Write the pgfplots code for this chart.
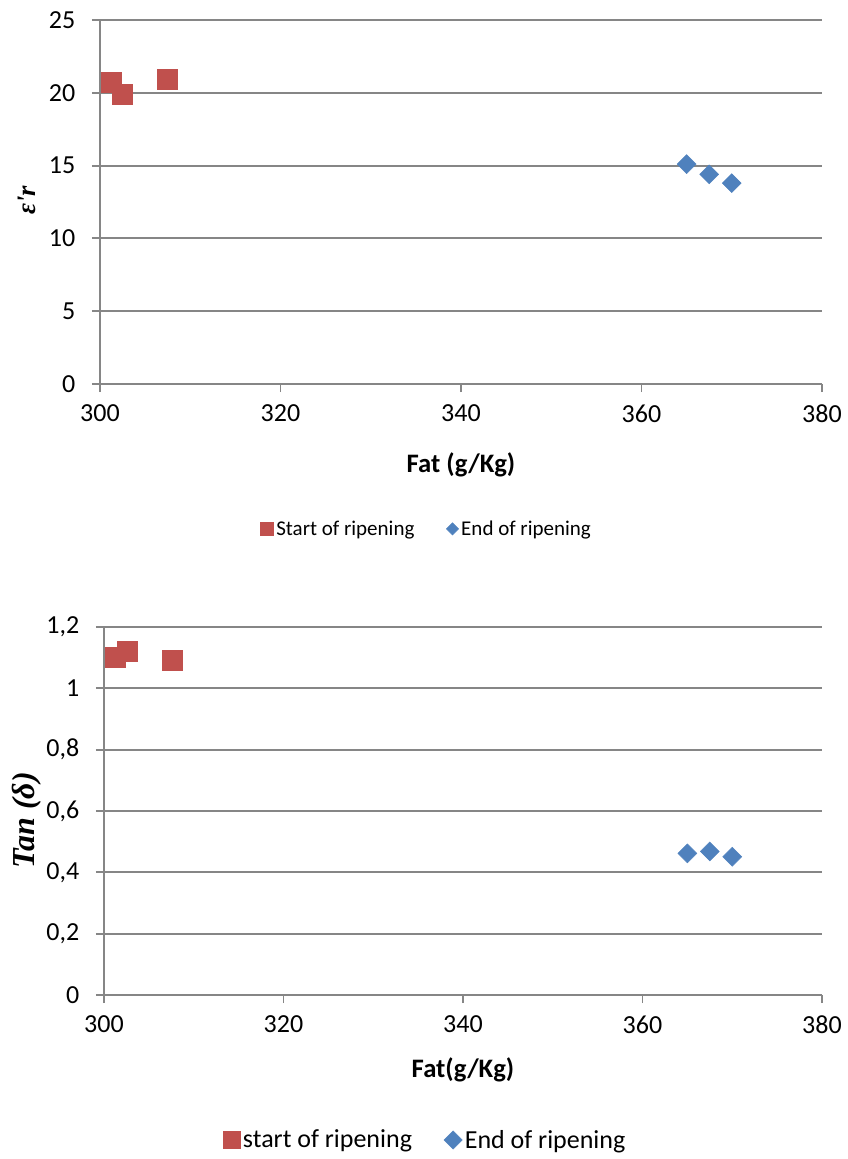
\documentclass[border=0pt]{standalone}
\usepackage{fontspec}
\setmainfont{Carlito}
\newfontfamily\serifbi{Liberation Serif}
\usepackage{pgfplots}
\pgfplotsset{compat=1.18}
\definecolor{exred}{HTML}{C0504D}
\definecolor{exblue}{HTML}{4F81BD}
\definecolor{gridgray}{HTML}{868686}
\pgfplotsset{
 mystyle/.style={
  scale only axis,
  axis lines=left,
  axis line style={-, gridgray, line width=1.4pt},
  ymajorgrids, grid style={gridgray, line width=1.4pt},
  xmin=300, xmax=380, xtick={300,320,340,360,380},
  tick align=outside, major tick length=6pt,
  tick style={gridgray, line width=1.4pt},
  ticklabel style={font=\fontsize{19.5}{23}\selectfont, text=black},
  xticklabel style={yshift=-6pt},
  yticklabel style={xshift=-9pt},
  /pgf/number format/assume math mode=true,
  xlabel style={font=\fontsize{20}{24}\selectfont\bfseries, anchor=center},
  ylabel style={font=\fontsize{20}{24}\selectfont\serifbi\bfseries\itshape, anchor=center, rotate=0},
  legend style={draw=none, fill=none, legend columns=2, anchor=center,
    /tikz/every even column/.append style={column sep=22pt}},
  legend cell align=left,
 }
}
\begin{document}
\begin{tikzpicture}
\useasboundingbox (0,0) rectangle (635.25pt,-869.25pt);
\begin{axis}[mystyle, at={(75pt,-15pt)}, anchor=north west,
  width=541.5pt, height=273pt,
  ymin=0, ymax=25, ytick={0,5,10,15,20,25},
  xlabel={Fat (g/Kg)}, ylabel={ε'r},
  xlabel style={at={(axis description cs:0.5,-0.222)}},
  ylabel style={at={(axis description cs:-0.101,0.505)}},
  legend style={at={(0.453,-0.398)}, font=\fontsize{15.75}{19}\selectfont},
]
\addplot[only marks, mark=square*, mark size=7.5pt, color=exred, forget plot]
  coordinates {(301.2,20.7) (302.5,19.9) (307.5,20.9)};
\addplot[only marks, mark=square*, mark size=5pt, mark options={rotate=45}, color=exblue, forget plot]
  coordinates {(365,15.1) (367.5,14.4) (370,13.8)};
\addlegendimage{only marks, mark=square*, mark size=4.9pt, color=exred}
\addlegendentry{Start of ripening}
\addlegendimage{only marks, mark=square*, mark size=3.2pt, mark options={rotate=45}, color=exblue}
\addlegendentry{End of ripening}
\end{axis}
\begin{axis}[mystyle, at={(78pt,-470.25pt)}, anchor=north west,
  width=538.5pt, height=276pt,
  ymin=0, ymax=1.2, ytick={0,0.2,0.4,0.6,0.8,1,1.2},
  yticklabel style={/pgf/number format/.cd, use comma, fixed, precision=1},
  xlabel={Fat(g/Kg)}, ylabel={Tan (δ)},
  xlabel style={at={(axis description cs:0.5,-0.204)}},
  ylabel style={at={(axis description cs:-0.107,0.475)}, font=\fontsize{24}{29}\selectfont\serifbi\bfseries\itshape},
  legend style={at={(0.448,-0.394)}, font=\fontsize{19.5}{23}\selectfont},
]
\addplot[only marks, mark=square*, mark size=7.5pt, color=exred, forget plot]
  coordinates {(301.3,1.10) (302.6,1.12) (307.6,1.09)};
\addplot[only marks, mark=square*, mark size=5pt, mark options={rotate=45}, color=exblue, forget plot]
  coordinates {(365,0.462) (367.5,0.468) (370,0.451)};
\addlegendimage{only marks, mark=square*, mark size=6.4pt, color=exred}
\addlegendentry{start of ripening}
\addlegendimage{only marks, mark=square*, mark size=4.8pt, mark options={rotate=45}, color=exblue}
\addlegendentry{End of ripening}
\end{axis}
\end{tikzpicture}
\end{document}
